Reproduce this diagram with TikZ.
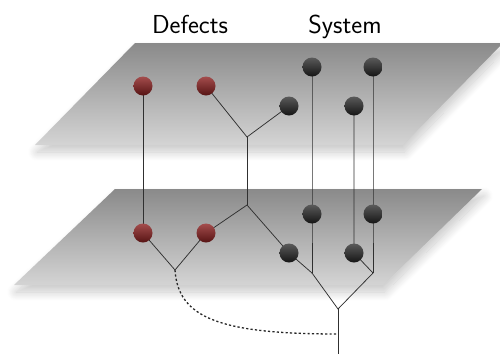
\documentclass[tikz,border=0pt]{standalone}
\usetikzlibrary{shadows.blur}
\pgfdeclarelayer{planes}
\pgfdeclarelayer{edges}
\pgfsetlayers{planes,edges,main}
\definecolor{defectlight}{HTML}{A44C4C}
\definecolor{defectdark}{HTML}{561414}
\definecolor{syslight}{HTML}{5A5A5A}
\definecolor{sysdark}{HTML}{151515}
\definecolor{planetop}{HTML}{8A8A8A}
\definecolor{planebottom}{HTML}{D4D4D4}
\definecolor{wirecol}{HTML}{303030}
\begin{document}
\begin{tikzpicture}[x=1pt,y=-1pt,
  ball/.style={circle,minimum size=19pt,inner sep=0pt},
  defect/.style={ball,top color=defectlight,bottom color=defectdark},
  sysball/.style={ball,top color=syslight,bottom color=sysdark},
  wire/.style={draw=wirecol,line width=0.75pt},
  dashwire/.style={draw=black!85,line width=1.3pt,dash pattern=on 2.2pt off 2.2pt},
  plane/.style={top color=planetop,bottom color=planebottom,
    blur shadow={shadow xshift=2pt,shadow yshift=-7pt,shadow blur radius=9pt,
      shadow blur steps=16,shadow opacity=22}},
  title/.style={font=\sffamily\fontsize{26}{30}\selectfont,anchor=base}]
\useasboundingbox (0,0) rectangle (500,354);

% the two sheets
\begin{pgfonlayer}{planes}
  \path[plane] (135,43) -- (503,43) -- (403,145) -- (35,145) -- cycle;
  \path[plane] (115,189) -- (482,189) -- (383,285) -- (14,285) -- cycle;
\end{pgfonlayer}

% headings
\node[title] (deflabel) at (190,33) {Defects};
\node[title] (syslabel) at (345,33) {System};

% upper sheet
\node[defect]  (r1t) at (143,86) {};
\node[defect]  (r2t) at (206,86) {};
\node[sysball] (s1t) at (289,106) {};
\node[sysball] (s2t) at (312,67) {};
\node[sysball] (s3t) at (354,106) {};
\node[sysball] (s4t) at (373,67) {};

% lower sheet
\node[defect]  (r1b) at (143,233) {};
\node[defect]  (r2b) at (206,233) {};
\node[sysball] (s1b) at (289,253) {};
\node[sysball] (s2b) at (312,214) {};
\node[sysball] (s3b) at (354,253) {};
\node[sysball] (s4b) at (373,214) {};

% branch points
\coordinate (jt) at (247,137);
\coordinate (jm) at (247,205);
\coordinate (jd) at (175,270);
\coordinate (js2) at (312,273);
\coordinate (js3) at (373,273);
\coordinate (jroot) at (338,309);
\coordinate (dend) at (338,334);
\coordinate (out) at (338,354);

\begin{pgfonlayer}{edges}
  \draw[wire] (r1t.center) -- (r1b.center);
  \draw[wire] (r2t.center) -- (jt) -- (s1t.center);
  \draw[wire] (jt) -- (jm);
  \draw[wire] (r2b.center) -- (jm) -- (s1b.center) -- (js2);
  \draw[wire] (s2t.center) -- (s2b.center) -- (js2);
  \draw[wire] (s3t.center) -- (s3b.center) -- (js3);
  \draw[wire] (s4t.center) -- (s4b.center) -- (js3);
  \draw[wire] (js2) -- (jroot) -- (js3);
  \draw[wire] (jroot) -- (out);
  \draw[wire] (r1b.center) -- (jd) -- (r2b.center);
  \draw[dashwire] (jd) .. controls (178,318) and (220,334) .. (dend);
\end{pgfonlayer}
\end{tikzpicture}
\end{document}
